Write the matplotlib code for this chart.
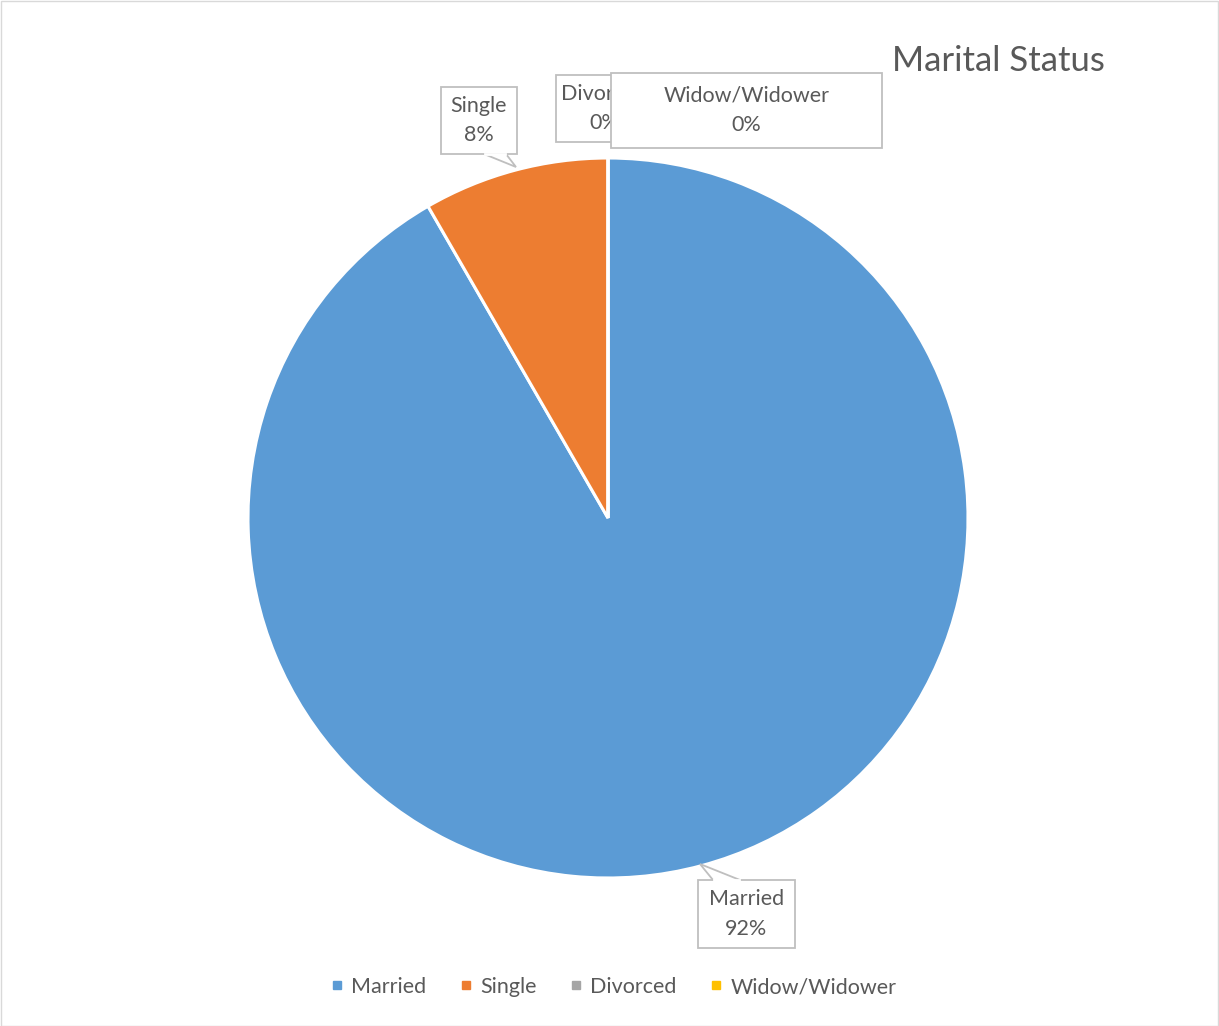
import matplotlib.pyplot as plt
from matplotlib.patches import Rectangle, Polygon
from matplotlib.lines import Line2D

# data
categories = ['Married', 'Single', 'Divorced', 'Widow/Widower']
counts = [11, 1, 0, 0]
colors = ['#5B9BD5', '#ED7D31', '#A5A5A5', '#FFC000']

W, H = 1219, 1026
TXT = '#595959'
plt.rcParams['font.family'] = ['Lato', 'DejaVu Sans']

fig = plt.figure(figsize=(W / 100, H / 100), dpi=100)
ax = fig.add_axes([0, 0, 1, 1])


def py(y):
    # pixel row (from top) -> data y
    return H - y


wedges, _ = ax.pie(counts, colors=colors, startangle=90, counterclock=False,
                   center=(608, py(518)), radius=360,
                   wedgeprops=dict(edgecolor='white', linewidth=2.2))
ax.set_xlim(0, W)
ax.set_ylim(0, H)
ax.set_aspect('equal')
ax.axis('off')

total = sum(counts)
pcts = [f'{round(100 * c / total)}%' for c in counts]


def callout(text, x0, y0, x1, y1, tip=None, base=None, z=5):
    # box given in pixel coords (top-left / bottom-right)
    ax.add_patch(Rectangle((x0, py(y1)), x1 - x0, y1 - y0, facecolor='white',
                           edgecolor='#BFBFBF', linewidth=1.3, zorder=z))
    if tip is not None:
        bx0, bx1, by = base
        ax.add_patch(Polygon([(bx0, py(by)), (tip[0], py(tip[1])), (bx1, py(by))],
                             closed=False, facecolor='white', edgecolor='#BFBFBF',
                             linewidth=1.3, zorder=z))
        ax.plot([bx0 + 1, bx1 - 1], [py(by), py(by)], color='white', lw=2, zorder=z + 0.5)
    ax.text((x0 + x1) / 2, py((y0 + y1) / 2), text, ha='center', va='center',
            fontsize=15.5, color=TXT, linespacing=1.6, zorder=z + 1)


callout(f'{categories[0]}\n{pcts[0]}', 698, 880, 795, 948,
        tip=(700, 864), base=(713, 740, 880), z=5)
callout(f'{categories[1]}\n{pcts[1]}', 441, 87, 517, 154,
        tip=(516, 167), base=(484, 506, 154), z=5)
callout(f'{categories[2]}\n{pcts[2]}', 556, 75, 652, 142, z=5)
callout(f'{categories[3]}\n{pcts[3]}', 611, 73, 882, 148, z=8)

fig.text(998 / W, 1 - 61 / H, 'Marital Status', ha='center', va='center',
         fontsize=25, color=TXT)

handles = [Line2D([], [], marker='s', linestyle='none', markersize=6,
                  markerfacecolor=c, markeredgecolor=c) for c in colors]
fig.legend(handles, categories, loc='center', bbox_to_anchor=(614 / W, 1 - 987 / H),
           ncol=4, frameon=False, fontsize=15.5, labelcolor=TXT,
           handlelength=0.5, handletextpad=0.4, columnspacing=1.6)

fig.add_artist(Rectangle((0.5 / W, 0.5 / H), 1 - 1.5 / W, 1 - 1.5 / H,
                         transform=fig.transFigure, fill=False,
                         edgecolor='#D9D9D9', linewidth=1))

fig.savefig('out.png', dpi=100)
